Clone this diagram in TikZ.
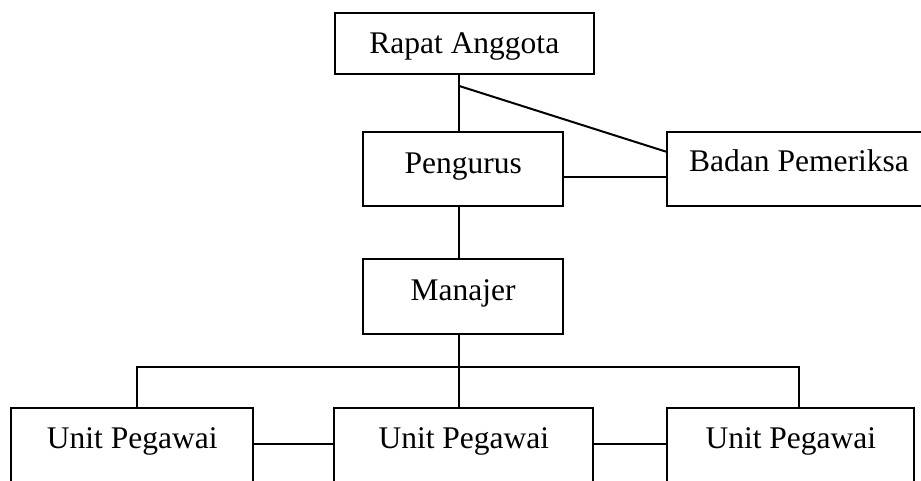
\documentclass[tikz,border=0pt]{standalone}
\usepackage{fontspec}
\setmainfont{Liberation Serif}
\usetikzlibrary{positioning}

\begin{document}
\begin{tikzpicture}[x=1pt, y=-1pt, line width=2pt, mynode/.style={draw, inner sep=0pt, anchor=base, align=center, font=\fontsize{31.5}{36}\selectfont}, unitnode/.style={mynode, text height=40pt, text depth=35pt}]

    \path[use as bounding box, clip] (0,0) rectangle (921,480);

    \node[mynode, minimum width=259.3pt, text height=40.6pt, text depth=20.7pt](rapat) at (464.3,53.3) {Rapat Anggota};

    \node[mynode, minimum width=200pt, text height=41.6pt, text depth=32.7pt](pengurus) at (463.3,173.3) {Pengurus};

    \node[mynode, minimum width=264pt, text height=39.4pt, text depth=34.3pt](badan) at (799,171.7) {Badan Pemeriksa};

    \node[mynode, minimum width=200.6pt, text height=40.7pt, text depth=34pt](manajer) at (463,300) {Manajer};

    \node[unitnode, minimum width=242.3pt](unitA) at (132.2,448.3) {Unit Pegawai};
    \node[unitnode, minimum width=259pt](unitB) at (463.8,448.3) {Unit Pegawai};
    \node[unitnode, minimum width=247pt](unitC) at (790.8,448.3) {Unit Pegawai};

    \coordinate (spine) at (459.3,0);
    \coordinate (split) at (459.3,86);
    \coordinate (bus) at (459.3,366.7);

    \draw (rapat.south -| spine) -- (pengurus.north -| spine);
    \draw (split) -- ([yshift=17.5pt]badan.west);
    \draw ([yshift=-7.9pt]pengurus.east) -- ([yshift=-7.9pt]pengurus.east -| badan.west);

    \draw (pengurus.south -| spine) -- (manajer.north -| spine);
    \draw (manajer.south -| spine) -- (unitB.north -| spine);
    \draw ([xshift=4.5pt]unitA.north) |- (bus) -| ([xshift=8.5pt]unitC.north);

    \draw ([yshift=1.5pt]unitA.east) -- ([yshift=1.5pt]unitA.east -| unitB.west);
    \draw ([yshift=1.5pt]unitB.east) -- ([yshift=1.5pt]unitB.east -| unitC.west);

\end{tikzpicture}
\end{document}
